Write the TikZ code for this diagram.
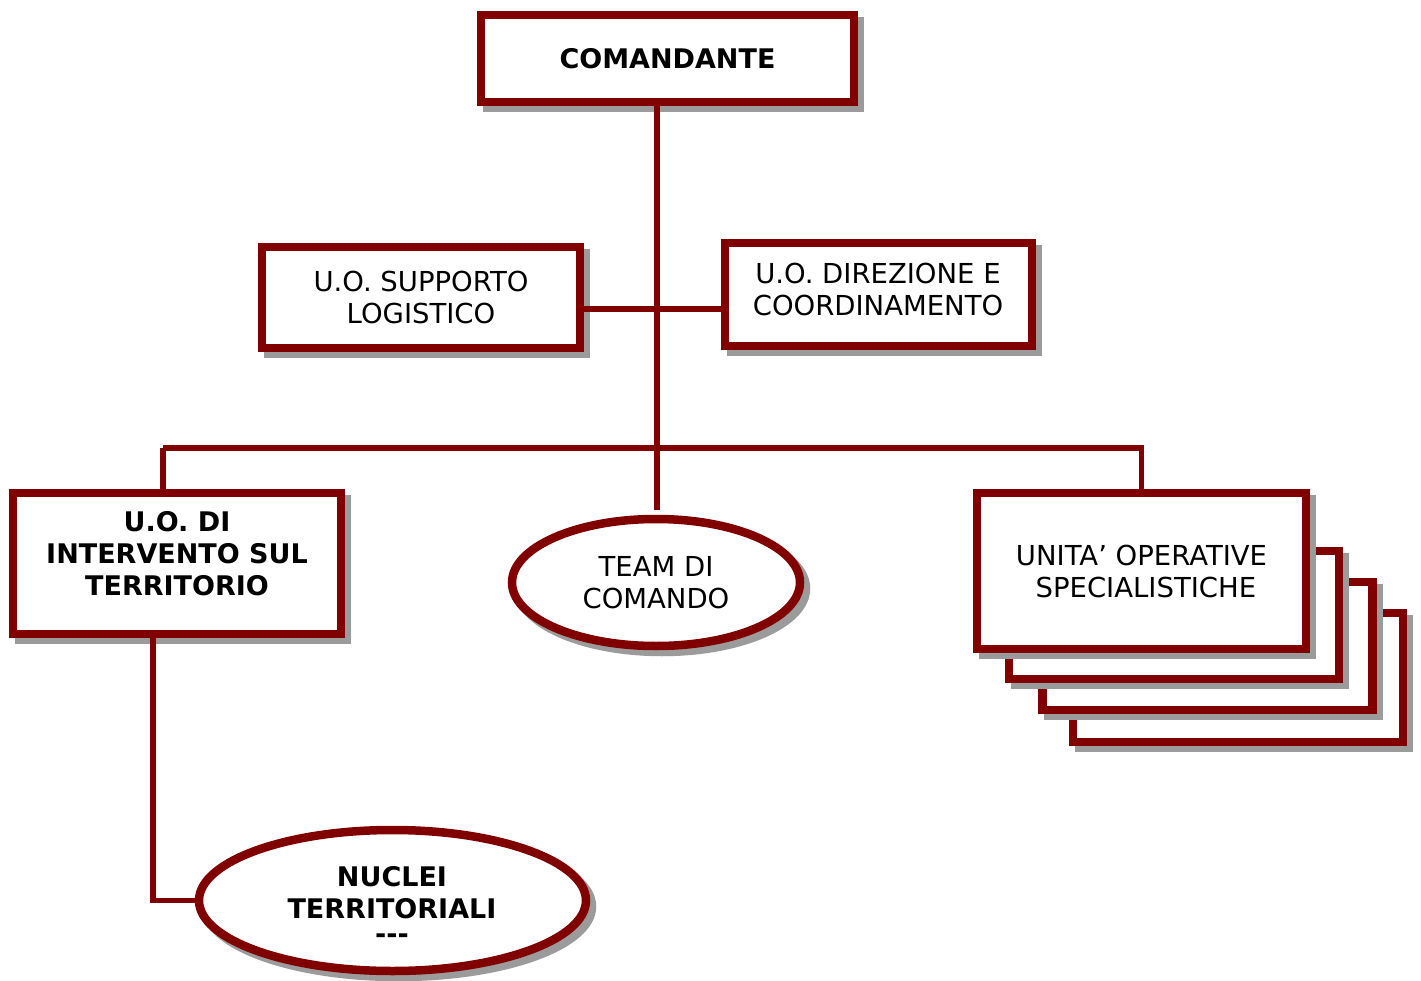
\documentclass[tikz,border=0pt]{standalone}
\usepackage{fontspec}
\setmainfont{DejaVu Sans}
\usetikzlibrary{shapes.geometric,shadows}
\definecolor{dred}{RGB}{128,0,0}
\definecolor{sgray}{RGB}{155,155,155}
\tikzset{
  shad/.style={drop shadow={shadow xshift=6pt,shadow yshift=-6pt,fill=sgray,draw=sgray,line width=8.5pt,opacity=1}},
  box/.style={rectangle,draw=dred,line width=8.5pt,fill=white,shad,inner sep=0pt,align=center,
    font=\fontsize{27.5}{32}\selectfont},
  oval/.style={ellipse,draw=dred,line width=8.5pt,fill=white,shad,inner sep=0pt,align=center,
    font=\fontsize{27.5}{32}\selectfont},
  bld/.style={font=\fontsize{27}{32}\selectfont\bfseries},
  conn/.style={draw=dred,line width=5.5pt}
}
\begin{document}
\begin{tikzpicture}[x=1pt,y=-1pt]
\useasboundingbox (0,0) rectangle (1421,981);
\coordinate (top) at (657,0);
\coordinate (teamtop) at (657,510);
\coordinate (mid) at (657,309);
\coordinate (bar) at (657,448);
\coordinate (uoline) at (153,0);
% stacked back boxes
\node[box,minimum width=330pt,minimum height=129pt] (back3) at (1238,677.5) {};
\node[box,minimum width=330pt,minimum height=128pt] (back2) at (1207.5,646) {};
\node[box,minimum width=330pt,minimum height=128pt] (back1) at (1174,615) {};
% main nodes
\node[box,bld,minimum width=373pt,minimum height=87pt] (com) at (667.5,58.5) {COMANDANTE};
\node[box,minimum width=318pt,minimum height=101pt] (sup) at (421,297.5) {U.O. SUPPORTO\\LOGISTICO};
\node[box,minimum width=307pt,minimum height=103pt] (dir) at (878.5,294.5) {};
\node[font=\fontsize{27.5}{32}\selectfont,align=center] (dirt) at (878,289) {U.O. DIREZIONE E\\COORDINAMENTO};
\node[box,minimum width=328pt,minimum height=141pt] (uo) at (177,563.5) {};
\node[bld,align=center] (uot) at (177,554) {U.O. DI\\INTERVENTO SUL\\TERRITORIO};
\node[oval,minimum width=288pt,minimum height=127pt] (team) at (656,582.5) {TEAM DI\\COMANDO};
\node[box,minimum width=329pt,minimum height=156pt] (uni) at (1141.5,571) {UNITA’ OPERATIVE\\\ SPECIALISTICHE};
\node[oval,minimum width=387pt,minimum height=141pt] (nuc) at (392.5,900.5) {};
\node[bld,align=center] (nuct) at (392,905) {NUCLEI\\TERRITORIALI\\[-7pt]-{}-{}-};
% connectors
\draw[conn] (com.south -| top) -- (teamtop);
\draw[conn] (sup.east |- mid) -- (dir.west |- mid);
\draw[conn] (uo.north |- bar) ++(-14,0) coordinate (bl) -- (bl |- uo.north);
\draw[conn] (bl) -- (uni.north |- bar) -- (uni.north);
\draw[conn] (uo.south -| uoline) |- (nuc.west);
\end{tikzpicture}
\end{document}
